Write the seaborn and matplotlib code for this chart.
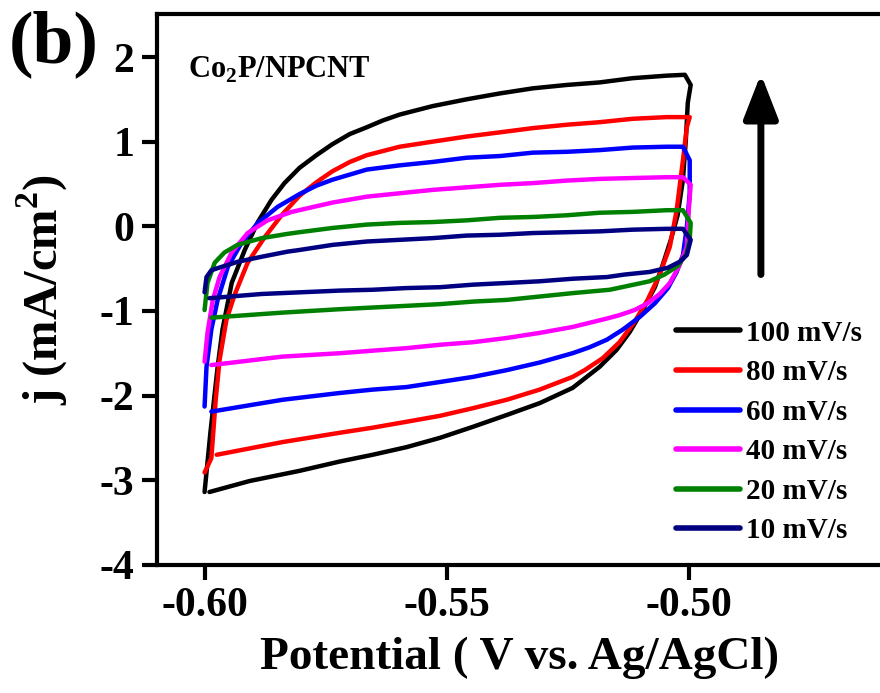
import numpy as np
import pandas as pd
import matplotlib
matplotlib.use("Agg")
import matplotlib.pyplot as plt
import seaborn as sns

# CV loops of Co2P/NPCNT (potential in V, j in mA/cm2)
v100 = [-0.6000, -0.5988, -0.5973, -0.5963, -0.5944, -0.5917, -0.5890, -0.5862, -0.5835, -0.5804,
        -0.5769, -0.5736, -0.5700, -0.5665, -0.5632, -0.5597, -0.5529, -0.5459, -0.5390, -0.5322,
        -0.5252, -0.5184, -0.5116, -0.5045, -0.5008,
        -0.4996, -0.5002, -0.5006, -0.5012, -0.5023, -0.5037, -0.5054, -0.5070, -0.5095, -0.5122,
        -0.5149, -0.5184, -0.5240, -0.5308, -0.5376, -0.5446, -0.5514, -0.5583, -0.5653, -0.5721,
        -0.5804, -0.5907, -0.5990]
j100 = [-3.14, -2.44, -1.66, -1.22, -0.67, -0.28, 0.05, 0.31, 0.51, 0.69,
        0.84, 0.97, 1.09, 1.17, 1.25, 1.32, 1.42, 1.50, 1.57, 1.63,
        1.67, 1.70, 1.75, 1.78, 1.79,
        1.67, 1.46, 1.02, 0.55, 0.13, -0.16, -0.46, -0.72, -0.99, -1.25,
        -1.46, -1.66, -1.91, -2.09, -2.23, -2.37, -2.50, -2.61, -2.70, -2.78,
        -2.89, -3.01, -3.14]

v80 = [-0.6000, -0.5986, -0.5977, -0.5969, -0.5955, -0.5938, -0.5911, -0.5876, -0.5841, -0.5804,
       -0.5769, -0.5736, -0.5700, -0.5665, -0.5597, -0.5529, -0.5459, -0.5390, -0.5322, -0.5252,
       -0.5184, -0.5116, -0.5045, -0.4998,
       -0.5004, -0.5012, -0.5025, -0.5039, -0.5060, -0.5085, -0.5112, -0.5143, -0.5178, -0.5215,
       -0.5240, -0.5308, -0.5376, -0.5446, -0.5514, -0.5583, -0.5653, -0.5721, -0.5839, -0.5975]
j80 = [-2.91, -2.74, -2.05, -1.58, -1.11, -0.81, -0.43, -0.13, 0.13, 0.36,
       0.52, 0.65, 0.76, 0.84, 0.94, 1.00, 1.06, 1.11, 1.16, 1.20,
       1.23, 1.27, 1.29, 1.29,
       1.17, 0.78, 0.19, -0.24, -0.57, -0.87, -1.13, -1.37, -1.56, -1.70,
       -1.78, -1.93, -2.05, -2.15, -2.24, -2.31, -2.38, -2.44, -2.55, -2.70]

v60 = [-0.6000, -0.5996, -0.5986, -0.5973, -0.5952, -0.5924, -0.5890, -0.5849, -0.5804, -0.5769,
       -0.5736, -0.5665, -0.5597, -0.5529, -0.5459, -0.5390, -0.5322, -0.5252, -0.5184, -0.5116,
       -0.5045, -0.5012,
       -0.4998, -0.4998, -0.5004, -0.5012, -0.5025, -0.5043, -0.5070, -0.5101, -0.5136, -0.5169,
       -0.5205, -0.5240, -0.5308, -0.5376, -0.5446, -0.5514, -0.5583, -0.5653, -0.5721, -0.5839,
       -0.5986]
j60 = [-2.13, -1.66, -1.22, -0.87, -0.48, -0.20, 0.04, 0.23, 0.38, 0.48,
       0.55, 0.67, 0.72, 0.76, 0.81, 0.83, 0.87, 0.88, 0.90, 0.93,
       0.94, 0.94,
       0.78, 0.39, -0.01, -0.34, -0.54, -0.73, -0.91, -1.07, -1.22, -1.34,
       -1.43, -1.50, -1.61, -1.70, -1.78, -1.84, -1.90, -1.93, -1.97, -2.05,
       -2.19]

v40 = [-0.6000, -0.5994, -0.5983, -0.5969, -0.5944, -0.5911, -0.5870, -0.5820, -0.5736, -0.5665,
       -0.5597, -0.5529, -0.5459, -0.5390, -0.5322, -0.5252, -0.5184, -0.5116, -0.5045, -0.5012,
       -0.4996, -0.5000, -0.5004, -0.5019, -0.5039, -0.5060, -0.5085, -0.5112, -0.5143, -0.5169,
       -0.5240, -0.5308, -0.5376, -0.5446, -0.5514, -0.5583, -0.5653, -0.5721, -0.5839, -0.5986]
j40 = [-1.60, -1.26, -0.87, -0.60, -0.31, -0.08, 0.07, 0.17, 0.28, 0.35,
       0.39, 0.43, 0.46, 0.49, 0.51, 0.54, 0.56, 0.57, 0.58, 0.58,
       0.49, 0.19, -0.24, -0.46, -0.67, -0.80, -0.91, -0.99, -1.05, -1.09,
       -1.19, -1.26, -1.32, -1.37, -1.40, -1.44, -1.47, -1.50, -1.54, -1.64]

v20 = [-0.6000, -0.5994, -0.5979, -0.5959, -0.5932, -0.5882, -0.5829, -0.5804, -0.5736, -0.5665,
       -0.5597, -0.5529, -0.5459, -0.5390, -0.5322, -0.5252, -0.5184, -0.5116, -0.5045, -0.5012,
       -0.4996, -0.4998, -0.5006, -0.5023, -0.5050, -0.5081, -0.5122, -0.5163, -0.5240, -0.5308,
       -0.5376, -0.5446, -0.5514, -0.5583, -0.5653, -0.5721, -0.5839, -0.5986]
j20 = [-0.99, -0.67, -0.43, -0.31, -0.22, -0.14, -0.09, -0.07, -0.02, 0.02,
       0.04, 0.05, 0.07, 0.10, 0.11, 0.13, 0.16, 0.17, 0.19, 0.19,
       0.04, -0.16, -0.34, -0.47, -0.57, -0.65, -0.70, -0.75, -0.79, -0.83,
       -0.87, -0.89, -0.92, -0.94, -0.96, -0.98, -1.02, -1.08]

v10 = [-0.6000, -0.5996, -0.5986, -0.5965, -0.5932, -0.5882, -0.5829, -0.5804, -0.5736, -0.5665,
       -0.5597, -0.5529, -0.5459, -0.5390, -0.5322, -0.5252, -0.5184, -0.5116, -0.5045, -0.5012,
       -0.4996, -0.5004, -0.5019, -0.5043, -0.5081, -0.5132, -0.5169, -0.5240, -0.5308, -0.5376,
       -0.5446, -0.5514, -0.5583, -0.5653, -0.5721, -0.5882, -0.5990]
j10 = [-0.78, -0.60, -0.52, -0.48, -0.42, -0.36, -0.30, -0.28, -0.22, -0.18,
       -0.16, -0.14, -0.11, -0.10, -0.08, -0.07, -0.06, -0.04, -0.03, -0.03,
       -0.16, -0.34, -0.42, -0.49, -0.54, -0.57, -0.60, -0.62, -0.65, -0.67,
       -0.69, -0.72, -0.73, -0.75, -0.76, -0.80, -0.85]

rates = ["100 mV/s", "80 mV/s", "60 mV/s", "40 mV/s", "20 mV/s", "10 mV/s"]
colors = ["#000000", "#ff0000", "#0000ff", "#ff00ff", "#008000", "#000080"]

#%% long table
loops = [(v100, j100), (v80, j80), (v60, j60), (v40, j40), (v20, j20), (v10, j10)]
frames = []
for lab, (v, j) in zip(rates, loops):
    frames.append(pd.DataFrame({"E": v, "j": j, "rate": lab, "step": np.arange(len(v))}))
df = pd.concat(frames, ignore_index=True)

#%% plot
sns.set_style("ticks", {"axes.edgecolor": "black", "xtick.color": "black",
                        "ytick.color": "black", "text.color": "black",
                        "axes.labelcolor": "black"})
plt.rcParams["font.family"] = ["Liberation Serif", "DejaVu Serif"]
plt.rcParams["font.weight"] = "bold"
plt.rcParams["mathtext.fontset"] = "custom"
plt.rcParams["mathtext.rm"] = "Liberation Serif:bold"
plt.rcParams["mathtext.bf"] = "Liberation Serif:bold"

fig = plt.figure(figsize=(8.8, 6.93), dpi=100)
ax = fig.add_axes([0.178, 0.185, 0.822, 0.795])

sns.lineplot(data=df, x="E", y="j", hue="rate", hue_order=rates, palette=colors,
             sort=False, estimator=None, units="rate", lw=3.2, ax=ax)

ax.set_xlim(-0.6099, -0.4605)
ax.set_ylim(-4, 2.51)
ax.set_xticks([-0.60, -0.55, -0.50])
ax.set_xticklabels(["-0.60", "-0.55", "-0.50"])
ax.set_yticks([-4, -3, -2, -1, 0, 1, 2])
ax.set_yticklabels(["-4", "-3", "-2", "-1", "0", "1", "2"])
ax.tick_params(axis="both", direction="out", length=11, width=3, labelsize=30, pad=5)
for s in ["left", "bottom", "top"]:
    ax.spines[s].set_linewidth(3)
ax.spines["right"].set_visible(False)

ax.set_xlabel("Potential ( V vs. Ag/AgCl)", fontsize=34, fontweight="bold")
ax.set_ylabel(r"j (mA/cm$^\mathbf{2}$)", fontsize=35, fontweight="bold")
ax.xaxis.set_label_coords(0.502, -0.13)
ax.yaxis.set_label_coords(-0.12, 0.5)

ax.text(0.043, 0.898, r"Co$_\mathbf{2}$P/NPCNT", transform=ax.transAxes, fontsize=22,
        fontweight="bold", va="center")
fig.text(0.01, 0.985, "(b)", fontsize=53, fontweight="bold", va="top")

ax.annotate("", xy=(-0.4851, 1.80), xytext=(-0.4851, -0.57),
            arrowprops=dict(arrowstyle="-|>,head_width=0.35,head_length=0.9", lw=5,
                            color="k", mutation_scale=30, shrinkA=0, shrinkB=0))

sns.move_legend(ax, "lower left", bbox_to_anchor=(0.69, 0.0), frameon=False, title=None,
                fontsize=21, handlelength=2.2, handletextpad=0.2, labelspacing=0.43,
                borderaxespad=0.3)
for h in ax.get_legend().legend_handles:
    h.set_linewidth(4)

fig.savefig("out.png", dpi=100)
